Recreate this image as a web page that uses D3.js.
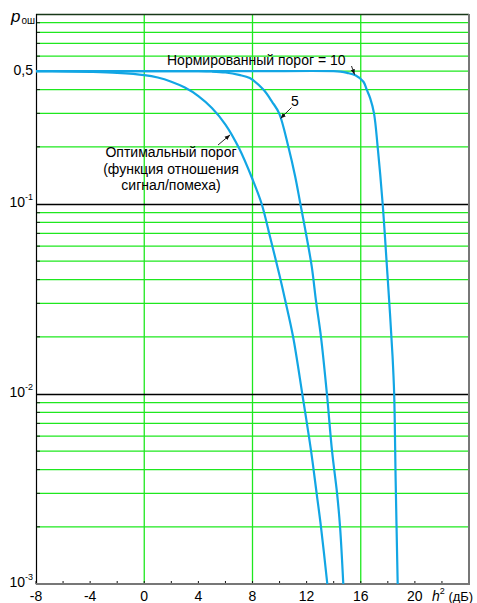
<!DOCTYPE html>
<html><head><meta charset="utf-8">
<script src="https://cdn.jsdelivr.net/npm/d3@7"></script>
<style>html,body{margin:0;padding:0;background:#fff;overflow:hidden}svg{display:block}</style>
</head><body>
<svg id="chart" width="477" height="603"></svg>
<script>
// ---- data ----
const xTickValues = [-8, -4, 0, 4, 8, 12, 16, 20];
const xMinorTickValues = [-6, -2, 2, 6, 10, 14, 18, 22];
const xGridValues = [0, 8, 16];
const yDecadeValues = [1e-3, 1e-2, 1e-1, 1];
const yLabelValues = [0.5, 1e-1, 1e-2, 1e-3];
const yLabelTexts = [["0,5", ""], ["10", "-1"], ["10", "-2"], ["10", "-3"]];

const hOptimal = [-8, -6, -4, -2, 0, 1, 2, 3, 4, 5, 6, 7, 8, 8.68, 9.3, 10, 10.4, 11, 11.68, 12.33, 12.74, 13.06, 13.53];
const pOptimal = [0.5, 0.499, 0.496, 0.49, 0.477, 0.463, 0.44, 0.41, 0.37, 0.32, 0.262, 0.197, 0.135, 0.1, 0.067, 0.042, 0.0315, 0.02, 0.01, 0.005, 0.003, 0.002, 0.001];

const hThr5 = [-8, 0, 4, 5, 6, 7, 7.8, 8.8, 9.45, 9.97, 10.65, 11.15, 11.54, 12.0, 12.38, 12.7, 13.06, 13.5, 13.88, 14.25, 14.47, 14.71];
const pThr5 = [0.5, 0.5, 0.5, 0.498, 0.492, 0.478, 0.46, 0.40, 0.345, 0.3, 0.2, 0.14, 0.1, 0.067, 0.0468, 0.0306, 0.02, 0.01, 0.005, 0.003, 0.002, 0.001];

const hThr10 = [-8, 0, 8, 14, 14.5, 15, 15.6, 16.2, 16.44, 16.7, 16.98, 17.25, 17.62, 17.9, 18.16, 18.35, 18.47, 18.58, 18.73];
const pThr10 = [0.5, 0.5, 0.5, 0.5, 0.497, 0.49, 0.476, 0.44, 0.4, 0.36, 0.3, 0.2, 0.1, 0.051, 0.0266, 0.0158, 0.01, 0.0035, 0.001];

const curveLabels = [
  {lines: ["Нормированный порог = 10"], h: 15.54, p: 0.48},
  {lines: ["5"], h: 10.07, p: 0.282},
  {lines: ["Оптимальный порог", "(функция отношения", "сигнал/помеха)"], h: 6.34, p: 0.231}
];

// ---- layout ----
const svg = d3.select("#chart");
const mLeft = 36, mRight = 469, mTop = 14, mBottom = 584;
const x = d3.scaleLinear().domain([-8, 24]).range([mLeft, mRight]);
const y = d3.scaleLog().domain([1e-3, 1]).range([mBottom, mTop]);
const font = "'Liberation Sans', Arial, sans-serif";
const green = "#1ee81e";
const blue = "#12a6e4";

// minor horizontal grid (green)
const minorY = [];
yDecadeValues.slice(0, 3).forEach(d => { for (let k = 2; k <= 9; k++) minorY.push(k * d); });
svg.append("g").selectAll("line").data(minorY).join("line")
  .attr("x1", mLeft).attr("x2", mRight)
  .attr("y1", d => y(d)).attr("y2", d => y(d))
  .attr("stroke", green).attr("stroke-width", 1.3);

// vertical grid (green)
svg.append("g").selectAll("line").data(xGridValues).join("line")
  .attr("x1", d => x(d)).attr("x2", d => x(d))
  .attr("y1", mTop).attr("y2", mBottom)
  .attr("stroke", green).attr("stroke-width", 1.3);

// decade lines (black)
svg.append("g").selectAll("line").data(yDecadeValues.slice(1)).join("line")
  .attr("x1", mLeft).attr("x2", mRight)
  .attr("y1", d => Math.round(y(d)) + 0.5).attr("y2", d => Math.round(y(d)) + 0.5)
  .attr("stroke", d => d === 1 ? "#183818" : "#000").attr("stroke-width", 1.3);

// left axis ticks (inside)
svg.append("g").selectAll("line").data(minorY).join("line")
  .attr("x1", mLeft).attr("x2", mLeft + 4)
  .attr("y1", d => y(d)).attr("y2", d => y(d))
  .attr("stroke", "#222").attr("stroke-width", 1);

// right border
svg.append("line").attr("x1", mRight).attr("x2", mRight).attr("y1", mTop).attr("y2", mBottom)
  .attr("stroke", "#777").attr("stroke-width", 2);
// left axis
svg.append("line").attr("x1", mLeft + 0.5).attr("x2", mLeft + 0.5).attr("y1", mTop).attr("y2", mBottom + 1)
  .attr("stroke", "#000").attr("stroke-width", 1.2);
// bottom axis ticks
svg.append("g").selectAll("line").data(xMinorTickValues.concat(xTickValues)).join("line")
  .attr("x1", d => x(d)).attr("x2", d => x(d))
  .attr("y1", mBottom).attr("y2", mBottom - 3)
  .attr("stroke", "#111").attr("stroke-width", 1);
// bottom axis
svg.append("line").attr("x1", mLeft).attr("x2", mRight + 1).attr("y1", mBottom).attr("y2", mBottom)
  .attr("stroke", "#777").attr("stroke-width", 2);

// curves
const line = d3.line().x(d => x(d[0])).y(d => y(d[1])).curve(d3.curveCatmullRom.alpha(0.5));
[[hOptimal, pOptimal], [hThr5, pThr5], [hThr10, pThr10]].forEach(([hs, ps]) => {
  svg.append("path").datum(hs.map((h, i) => [h, ps[i]]))
    .attr("d", line).attr("fill", "none")
    .attr("stroke", blue).attr("stroke-width", 2.2);
});

// x tick labels
svg.append("g").selectAll("text").data(xTickValues).join("text")
  .attr("x", d => x(d)).attr("y", 601)
  .attr("text-anchor", "middle").attr("font-family", font).attr("font-size", 14)
  .text(d => d);
// x axis title
const xt = svg.append("text").attr("x", 432).attr("y", 601)
  .attr("font-family", font).attr("font-size", 13);
xt.append("tspan").attr("font-style", "italic").attr("font-size", 14).text("h");
xt.append("tspan").attr("font-size", 9).attr("dy", -7).text("2");
xt.append("tspan").attr("dy", 7).text(" (дБ)");

// y labels
yLabelValues.forEach((v, i) => {
  const t = svg.append("text").attr("x", 33).attr("y", y(v) + 3 + (i === 0 ? 1 : 0))
    .attr("text-anchor", "end").attr("font-family", font).attr("font-size", 14);
  t.append("tspan").text(yLabelTexts[i][0]);
  if (yLabelTexts[i][1]) t.append("tspan").attr("font-size", 9).attr("dy", -7).text(yLabelTexts[i][1]);
});
// y title
const yt = svg.append("text").attr("x", 11).attr("y", 22).attr("font-family", font);
yt.append("tspan").attr("font-style", "italic").attr("font-size", 17).text("p");
yt.append("tspan").attr("font-size", 10).attr("dy", 2).attr("dx", 1).text("ош");

// annotations
const defs = svg.append("defs");
defs.append("marker").attr("id", "ah").attr("viewBox", "0 0 10 10").attr("refX", 10).attr("refY", 5)
  .attr("markerWidth", 6).attr("markerHeight", 6).attr("orient", "auto")
  .append("path").attr("d", "M0,1 L10,5 L0,9 Z").attr("fill", "#111");

const annPos = [
  {tx: 167, ty: 65, anchor: "start", from: [351.5, 66]},
  {tx: 295, ty: 106, anchor: "middle", from: [291.5, 107.5]},
  {tx: 171, ty: 157, anchor: "middle", from: [218, 145]}
];
curveLabels.forEach((a, i) => {
  const pos = annPos[i];
  const t = svg.append("text").attr("font-family", font).attr("font-size", 14)
    .attr("text-anchor", pos.anchor);
  a.lines.forEach((l, j) => t.append("tspan").attr("x", pos.tx).attr("y", pos.ty + j * 16.5).text(l));
  svg.append("line").attr("x1", pos.from[0]).attr("y1", pos.from[1])
    .attr("x2", x(a.h)).attr("y2", y(a.p))
    .attr("stroke", "#111").attr("stroke-width", 0.9).attr("marker-end", "url(#ah)");
});
</script>
</body></html>
